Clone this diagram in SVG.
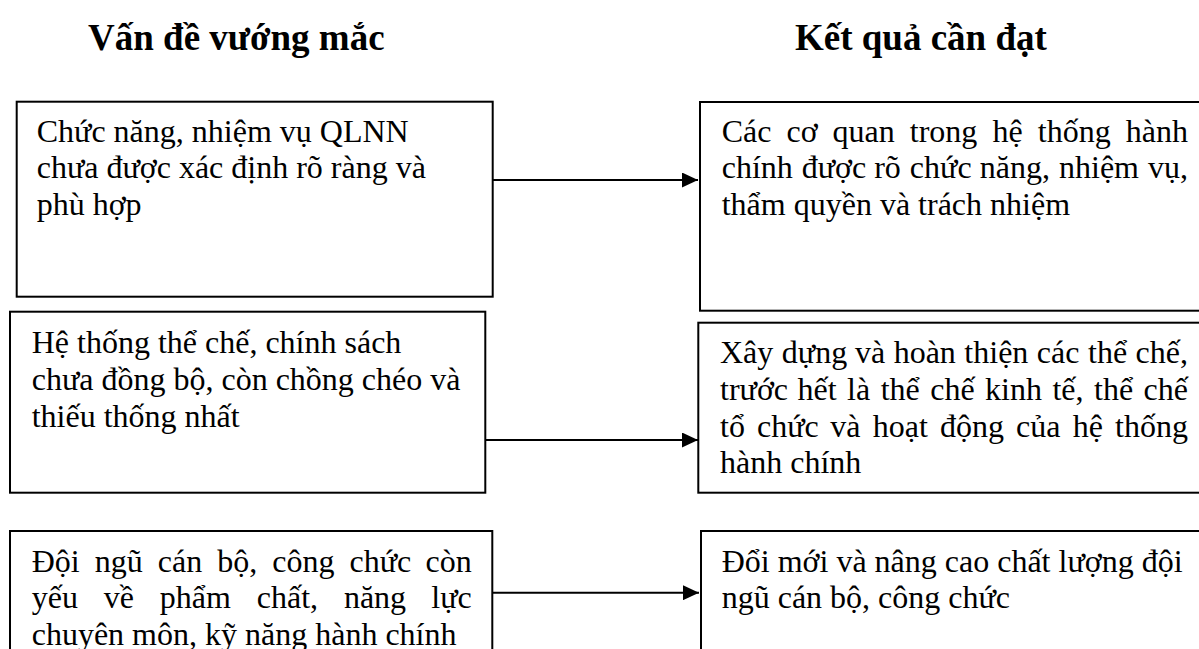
<svg xmlns="http://www.w3.org/2000/svg" width="1199" height="649" viewBox="0 0 1199 649">
  <style>
    .box { fill: #ffffff; stroke: #000000; stroke-width: 2; }
    .txt { font-family: "Liberation Serif", "Times New Roman", "DejaVu Serif", serif; font-size: 32px; fill: #000000; }
    .head { font-family: "Liberation Serif", "Times New Roman", "DejaVu Serif", serif; font-size: 37px; font-weight: bold; fill: #000000; }
    .end { text-anchor: end; }
    .conn { stroke: #000000; stroke-width: 2; fill: none; }
  </style>
  <defs>
    <marker id="arrow" markerUnits="userSpaceOnUse" markerWidth="16" markerHeight="15" refX="16" refY="7.5" orient="auto">
      <path d="M0,0 L16,7.5 L0,15 Z" fill="#000000"/>
    </marker>
  </defs>
  <rect width="1199" height="649" fill="#ffffff"/>

  <!-- column headings -->
  <g id="headings">
    <text class="head" x="88" y="50">Vấn đề vướng mắc</text>
    <text class="head" x="795" y="50">Kết quả cần đạt</text>
  </g>

  <!-- left column: problems -->
  <g id="problem-functions">
    <rect class="box" x="16.7" y="101.7" width="476" height="195"/>
    <text class="txt" x="36.7" y="141.7">Chức năng, nhiệm vụ QLNN</text>
    <text class="txt" x="36.7" y="178.4">chưa được xác định rõ ràng và</text>
    <text class="txt" x="36.7" y="215.1">phù hợp</text>
  </g>

  <g id="problem-institutions">
    <rect class="box" x="10" y="311.7" width="475.3" height="181"/>
    <text class="txt" x="31.7" y="353.3">Hệ thống thể chế, chính sách</text>
    <text class="txt" x="31.7" y="390">chưa đồng bộ, còn chồng chéo và</text>
    <text class="txt" x="31.7" y="426.7">thiếu thống nhất</text>
  </g>

  <g id="problem-staff">
    <rect class="box" x="10" y="531" width="482.3" height="140"/>
    <text class="txt" y="571.7"><tspan x="31.7">Đội</tspan><tspan x="94.72">ngũ</tspan><tspan x="157.74">cán</tspan><tspan x="217.18">bộ,</tspan><tspan x="272.2">công</tspan><tspan x="349.43">chức</tspan></text>
    <text class="txt end" x="471.7" y="571.7">còn</text>
    <text class="txt" y="608.4"><tspan x="31.7">yếu</tspan><tspan x="103.75">về</tspan><tspan x="159.8">phẩm</tspan><tspan x="256.74">chất,</tspan><tspan x="343.89">năng</tspan></text>
    <text class="txt end" x="471.7" y="608.4">lực</text>
    <text class="txt" x="31.7" y="645.1">chuyên môn, kỹ năng hành chính</text>
  </g>

  <!-- right column: expected results -->
  <g id="result-functions">
    <rect class="box" x="700" y="102" width="520" height="208.7"/>
    <text class="txt" y="141.7"><tspan x="721.7">Các</tspan><tspan x="786.56">cơ</tspan><tspan x="832.51">quan</tspan><tspan x="909.82">trong</tspan><tspan x="992.47">hệ</tspan><tspan x="1037.78">thống</tspan></text>
    <text class="txt end" x="1188" y="141.7">hành</text>
    <text class="txt" y="178.4"><tspan x="721.7">chính</tspan><tspan x="801.76">được</tspan><tspan x="874.21">rõ</tspan><tspan x="909.83">chức</tspan><tspan x="979.85">năng,</tspan><tspan x="1059.02">nhiệm</tspan></text>
    <text class="txt end" x="1188" y="178.4">vụ,</text>
    <text class="txt" x="721.7" y="215.1">thẩm quyền và trách nhiệm</text>
  </g>

  <g id="result-institutions">
    <rect class="box" x="698.3" y="322.7" width="520" height="170"/>
    <text class="txt" y="363.3"><tspan x="720">Xây</tspan><tspan x="781.81">dựng</tspan><tspan x="854.95">và</tspan><tspan x="893.66">hoàn</tspan><tspan x="964.37">thiện</tspan><tspan x="1036.87">các</tspan><tspan x="1087.99">thể</tspan></text>
    <text class="txt end" x="1188" y="363.3">chế,</text>
    <text class="txt" y="400"><tspan x="720">trước</tspan><tspan x="797.51">hết</tspan><tspan x="847.08">là</tspan><tspan x="880.65">thể</tspan><tspan x="930.22">chế</tspan><tspan x="985.11">kinh</tspan><tspan x="1052.48">tế,</tspan><tspan x="1094.05">thể</tspan></text>
    <text class="txt end" x="1188" y="400">chế</text>
    <text class="txt" y="436.7"><tspan x="720">tổ</tspan><tspan x="757.07">chức</tspan><tspan x="830.3">và</tspan><tspan x="872.68">hoạt</tspan><tspan x="939.95">động</tspan><tspan x="1016.12">của</tspan><tspan x="1072.71">hệ</tspan></text>
    <text class="txt end" x="1188" y="436.7">thống</text>
    <text class="txt" x="720" y="473.4">hành chính</text>
  </g>

  <g id="result-staff">
    <rect class="box" x="701" y="531" width="520" height="140"/>
    <text class="txt" x="721.7" y="571.7">Đổi mới và nâng cao chất lượng đội</text>
    <text class="txt" x="721.7" y="608.4">ngũ cán bộ, công chức</text>
  </g>

  <!-- arrows from each problem to its result -->
  <g id="connectors">
    <line class="conn" x1="492.7" y1="180" x2="698" y2="180" marker-end="url(#arrow)"/>
    <line class="conn" x1="485.3" y1="440" x2="698" y2="440" marker-end="url(#arrow)"/>
    <line class="conn" x1="492.3" y1="592.7" x2="699" y2="592.7" marker-end="url(#arrow)"/>
  </g>
</svg>
